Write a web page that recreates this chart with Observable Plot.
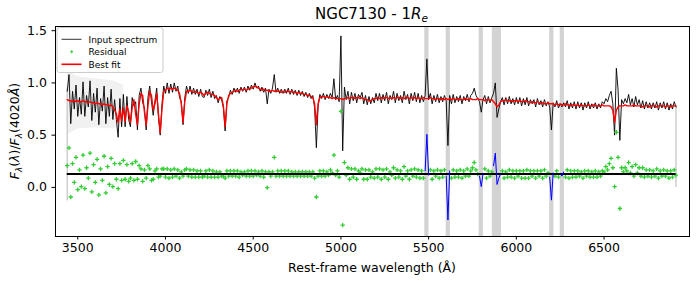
<!DOCTYPE html>
<html><head><meta charset="utf-8">
<script src="https://cdn.jsdelivr.net/npm/d3@7"></script>
<script src="https://cdn.jsdelivr.net/npm/@observablehq/plot@0.6"></script>
<style>
html,body{margin:0;padding:0;background:#fff;}
#chart{width:697px;height:283px;}
svg{font-family:"DejaVu Sans",sans-serif;}
</style></head><body><div id="chart"></div>
<script>
// Wavelength sampling grid (Å): 3440 .. 6910 every 10 Å
const wavelength = d3.range(3440, 6911, 10);

// Best-fit model
const bestFit = [
0.84,0.83,0.83,0.82,0.83,0.82,0.83,0.82,0.82,0.83,
0.82,0.82,0.81,0.82,0.81,0.81,0.80,0.81,0.80,0.80,
0.79,0.80,0.79,0.79,0.78,0.79,0.77,0.74,0.70,0.62,
0.75,0.64,0.76,0.63,0.78,0.72,0.62,0.76,0.84,0.70,
0.60,0.80,0.90,0.88,0.72,0.59,0.78,0.92,0.88,0.74,
0.80,0.90,0.70,0.52,0.75,0.92,0.93,0.95,0.94,0.95,
0.94,0.95,0.94,0.93,0.90,0.80,0.62,0.82,0.92,0.92,
0.93,0.92,0.91,0.92,0.91,0.90,0.91,0.90,0.88,0.90,
0.91,0.90,0.89,0.89,0.88,0.86,0.84,0.85,0.86,0.78,
0.58,0.80,0.88,0.90,0.91,0.92,0.93,0.92,0.93,0.94,
0.93,0.94,0.93,0.94,0.95,0.95,0.96,0.97,0.96,0.95,
0.94,0.93,0.94,0.93,0.93,0.92,0.92,0.93,0.92,0.93,
0.92,0.92,0.91,0.92,0.91,0.92,0.92,0.91,0.92,0.91,
0.91,0.90,0.91,0.90,0.90,0.89,0.89,0.88,0.88,0.87,
0.86,0.80,0.60,0.80,0.86,0.87,0.87,0.86,0.87,0.86,
0.86,0.85,0.86,0.85,0.85,0.85,0.85,0.84,0.85,0.85,
0.86,0.85,0.86,0.86,0.85,0.86,0.86,0.85,0.86,0.85,
0.84,0.84,0.83,0.83,0.84,0.85,0.85,0.86,0.85,0.86,
0.85,0.86,0.86,0.85,0.86,0.85,0.86,0.85,0.86,0.86,
0.85,0.86,0.85,0.86,0.86,0.85,0.86,0.85,0.86,0.85,
0.86,0.85,0.85,0.86,0.85,0.85,0.85,0.86,0.85,0.85,
0.84,0.85,0.85,0.84,0.85,0.84,0.85,0.84,0.85,0.84,
0.85,0.84,0.84,0.85,0.84,0.84,0.84,0.85,0.84,0.84,
0.85,0.84,0.84,0.84,0.85,0.84,0.84,0.84,0.83,0.84,
0.84,0.83,0.84,0.82,0.80,0.77,0.79,0.82,0.83,0.83,
0.84,0.83,0.83,0.83,0.82,0.83,0.83,0.82,0.83,0.82,
0.82,0.83,0.82,0.82,0.81,0.82,0.81,0.81,0.82,0.81,
0.80,0.81,0.80,0.80,0.81,0.80,0.80,0.80,0.79,0.80,
0.79,0.80,0.79,0.79,0.80,0.79,0.79,0.78,0.79,0.79,
0.78,0.79,0.78,0.79,0.78,0.78,0.78,0.79,0.78,0.78,
0.79,0.78,0.78,0.78,0.78,0.79,0.78,0.78,0.78,0.78,
0.77,0.74,0.62,0.74,0.77,0.78,0.78,0.78,0.79,0.78,
0.78,0.78,0.78,0.79,0.78,0.78,0.78,0.78,0.77,0.78,
0.78,0.78,0.77,0.78,0.78,0.78,0.77,0.78,0.78,0.78,
0.78,0.77,0.78,0.78,0.77,0.78,0.78,0.78];

// Input spectrum
const inputSpectrum = [
0.92,1.08,0.61,0.92,0.75,0.98,0.68,0.86,0.70,1.01,
0.68,0.88,0.77,1.02,0.64,0.90,0.72,0.95,0.60,0.85,
0.73,0.97,0.61,0.86,0.68,0.94,0.65,0.84,0.65,0.48,
0.85,0.58,0.89,0.58,0.87,0.65,0.58,0.86,0.78,0.82,
0.55,0.88,0.95,0.81,0.76,0.55,0.86,0.97,0.82,0.69,
0.83,0.95,0.67,0.50,0.80,0.97,0.90,1.00,0.90,0.99,
0.91,1.00,0.92,0.97,0.86,0.82,0.60,0.86,0.97,0.90,
0.97,0.89,0.95,0.89,0.94,0.87,0.94,0.87,0.86,0.93,
0.88,0.94,0.86,0.92,0.85,0.88,0.81,0.87,0.84,0.76,
0.54,0.83,0.86,0.93,0.89,0.95,0.91,0.95,0.90,0.96,
0.92,0.96,0.91,0.97,0.93,0.98,0.94,1.00,0.95,0.97,
0.92,0.96,0.91,0.95,0.80,0.94,0.90,0.95,1.08,0.91,
0.95,0.90,0.94,0.90,0.94,0.90,0.95,0.89,0.94,0.89,
0.93,0.88,0.93,0.88,0.92,0.87,0.91,0.86,0.90,0.85,
0.88,0.76,0.38,0.78,0.89,0.85,0.90,0.84,0.89,0.85,
0.90,0.86,1.04,0.84,0.88,0.82,1.45,0.35,0.96,0.84,
0.92,0.80,0.91,0.83,0.90,0.81,0.89,0.86,0.91,0.80,
0.88,0.79,0.87,0.80,0.86,0.81,0.90,0.83,0.90,0.81,
0.89,0.83,0.91,0.80,0.88,0.84,0.92,0.81,0.90,0.83,
0.88,0.81,0.92,0.84,0.89,0.80,0.90,0.83,0.91,0.82,
0.90,0.81,0.88,0.82,0.88,1.23,0.84,0.90,0.80,0.88,
0.82,0.89,0.81,0.87,0.82,0.88,0.83,0.40,0.88,0.80,
0.89,0.81,0.87,0.82,0.88,0.80,0.87,0.83,0.89,0.82,
0.88,0.90,0.95,0.88,0.85,0.82,0.72,0.84,0.88,0.80,
0.87,0.81,0.86,0.90,1.00,0.67,0.75,0.82,0.86,0.79,
0.86,0.80,0.87,0.80,0.85,0.79,0.86,0.80,0.86,0.78,
0.85,0.79,0.86,0.78,0.84,0.80,0.84,0.77,0.85,0.79,
0.83,0.77,0.84,0.78,0.82,0.77,0.55,0.81,0.77,0.83,
0.76,0.80,0.77,0.81,0.77,0.83,0.75,0.81,0.76,0.82,
0.75,0.82,0.76,0.81,0.74,0.81,0.76,0.82,0.75,0.80,
0.76,0.81,0.75,0.80,0.76,0.82,0.80,0.85,0.82,0.88,
0.92,0.80,0.50,1.14,0.93,0.45,0.84,0.80,0.85,0.81,
0.89,0.79,0.85,0.77,0.87,0.79,0.84,0.76,0.83,0.75,
0.82,0.76,0.81,0.75,0.81,0.76,0.82,0.74,0.81,0.76,
0.82,0.75,0.81,0.74,0.80,0.75,0.82,0.77];

// Residual = input - fit, shifted up by this offset
const residualOffset = 0.128;

// Masked wavelength windows (Å)
const maskStart = [5478, 5600, 5788, 5863, 6190, 6250];
const maskEnd   = [5502, 5624, 5812, 5915, 6214, 6274];

// Uncertainty envelope at the blue end
const errWave = [3440, 3500, 3600, 3700, 3760];
const errLow  = [0.50, 0.56, 0.57, 0.56, 0.60];
const errHigh = [1.12, 1.06, 1.04, 1.02, 0.98];

// Spectrum edges
const edgeWave = [3440, 6910];
const edgeLow  = [-0.13, 0.00];
const edgeHigh = [0.95, 0.78];

const xTicks = [3500, 4000, 4500, 5000, 5500, 6000, 6500];
const yTicks = [0.0, 0.5, 1.0, 1.5];

// ---- build tables ----
const masks = maskStart.map((s, i) => ({start: s, end: maskEnd[i], id: i}));
const maskOf = w => masks.findIndex(m => w >= m.start && w <= m.end);
const rows = wavelength.map((w, i) => ({
  w, flux: inputSpectrum[i], fit: bestFit[i],
  res: inputSpectrum[i] - bestFit[i] + residualOffset,
  mask: maskOf(w)
}));
const goodRows = rows.filter(d => d.mask < 0);
const maskedRows = rows.filter(d => d.mask >= 0);
const band = errWave.map((w, i) => ({w, lo: errLow[i], hi: errHigh[i]}));
const edges = edgeWave.map((w, i) => ({w, lo: edgeLow[i], hi: edgeHigh[i]}));
const zeroLine = [{y: residualOffset, x1: wavelength[0], x2: wavelength[wavelength.length - 1]}];

const chart = Plot.plot({
  width: 697, height: 283,
  marginLeft: 55, marginRight: 8, marginTop: 26, marginBottom: 47,
  style: {fontFamily: "DejaVu Sans, sans-serif", fontSize: "12.5px", color: "black", background: "white", overflow: "visible"},
  x: {domain: [3373, 6987], ticks: xTicks, tickSize: 3.5, tickPadding: 3, label: null, tickFormat: d => String(d)},
  y: {domain: [-0.47, 1.54], ticks: yTicks, tickSize: 3.5, tickPadding: 5, label: null, tickFormat: d3.format(".1f")},
  marks: [
    Plot.rect(masks, {x1: "start", x2: "end", fill: "#d3d3d3"}),
    Plot.areaY(band, {x: "w", y1: "lo", y2: "hi", fill: "#f1f1f1"}),
    Plot.ruleX(edges, {x: "w", y1: "lo", y2: "hi", stroke: "#cfcfcf", strokeWidth: 1.5}),
    Plot.lineY(rows, {x: "w", y: "flux", stroke: "black", strokeWidth: 0.9}),
    Plot.dot(goodRows, {x: "w", y: "res", symbol: "plus", r: 1.5, stroke: "#32cd32", strokeWidth: 1.3}),
    Plot.ruleY(zeroLine, {y: "y", x1: "x1", x2: "x2", stroke: "black", strokeWidth: 2}),
    Plot.line(maskedRows, {x: "w", y: "res", z: "mask", stroke: "blue", strokeWidth: 1}),
    Plot.lineY(rows, {x: "w", y: "fit", stroke: "red", strokeWidth: 1.4}),
    Plot.frame({stroke: "black", strokeWidth: 1})
  ]
});
document.getElementById("chart").appendChild(chart);

const svg = d3.select(chart);
// Title
const t = svg.append("text").attr("x", 371.5).attr("y", 18.5).attr("text-anchor", "middle")
  .attr("font-size", "15px").attr("fill", "black");
t.append("tspan").text("NGC7130 - 1");
t.append("tspan").attr("font-style", "italic").text("R");
t.append("tspan").attr("font-style", "italic").attr("font-size", "10.5px").attr("dy", "3").text("e");

// x label
svg.append("text").attr("x", 372).attr("y", 271.5).attr("text-anchor", "middle")
  .attr("font-size", "12.5px").attr("fill", "black").text("Rest-frame wavelength (Å)");

// y label
const yl = svg.append("text").attr("transform", "translate(19,131) rotate(-90)")
  .attr("text-anchor", "middle").attr("font-size", "12.5px").attr("fill", "black");
yl.append("tspan").attr("font-style", "italic").text("F");
yl.append("tspan").attr("font-style", "italic").attr("font-size", "8.8px").attr("dy", "2.5").text("λ");
yl.append("tspan").attr("dy", "-2.5").text("(");
yl.append("tspan").attr("font-style", "italic").text("λ");
yl.append("tspan").text(")/");
yl.append("tspan").attr("font-style", "italic").text("F");
yl.append("tspan").attr("font-style", "italic").attr("font-size", "8.8px").attr("dy", "2.5").text("λ");
yl.append("tspan").attr("dy", "-2.5").text("(4020");
yl.append("tspan").attr("font-style", "italic").text("Å");
yl.append("tspan").text(")");

// Legend
const lg = svg.append("g").attr("font-size", "9px").attr("text-anchor", "start");
lg.append("rect").attr("x", 57).attr("y", 27.5).attr("width", 106).attr("height", 45)
  .attr("rx", 2.5).attr("fill", "white").attr("fill-opacity", 0.8).attr("stroke", "#cccccc");
lg.append("line").attr("x1", 61.5).attr("x2", 81.5).attr("y1", 39.3).attr("y2", 39.3)
  .attr("stroke", "black").attr("stroke-width", 0.8);
lg.append("text").attr("x", 88.5).attr("y", 42.5).attr("text-anchor", "start").text("Input spectrum");
lg.append("path").attr("d", "M70.2,51.7h3M71.7,50.2v3").attr("stroke", "#32cd32").attr("stroke-width", 1.1);
lg.append("text").attr("x", 88.5).attr("y", 55).attr("text-anchor", "start").text("Residual");
lg.append("line").attr("x1", 61.5).attr("x2", 81.5).attr("y1", 64.3).attr("y2", 64.3)
  .attr("stroke", "red").attr("stroke-width", 1.6);
lg.append("text").attr("x", 88.5).attr("y", 67.5).attr("text-anchor", "start").text("Best fit");
</script>
</body></html>
